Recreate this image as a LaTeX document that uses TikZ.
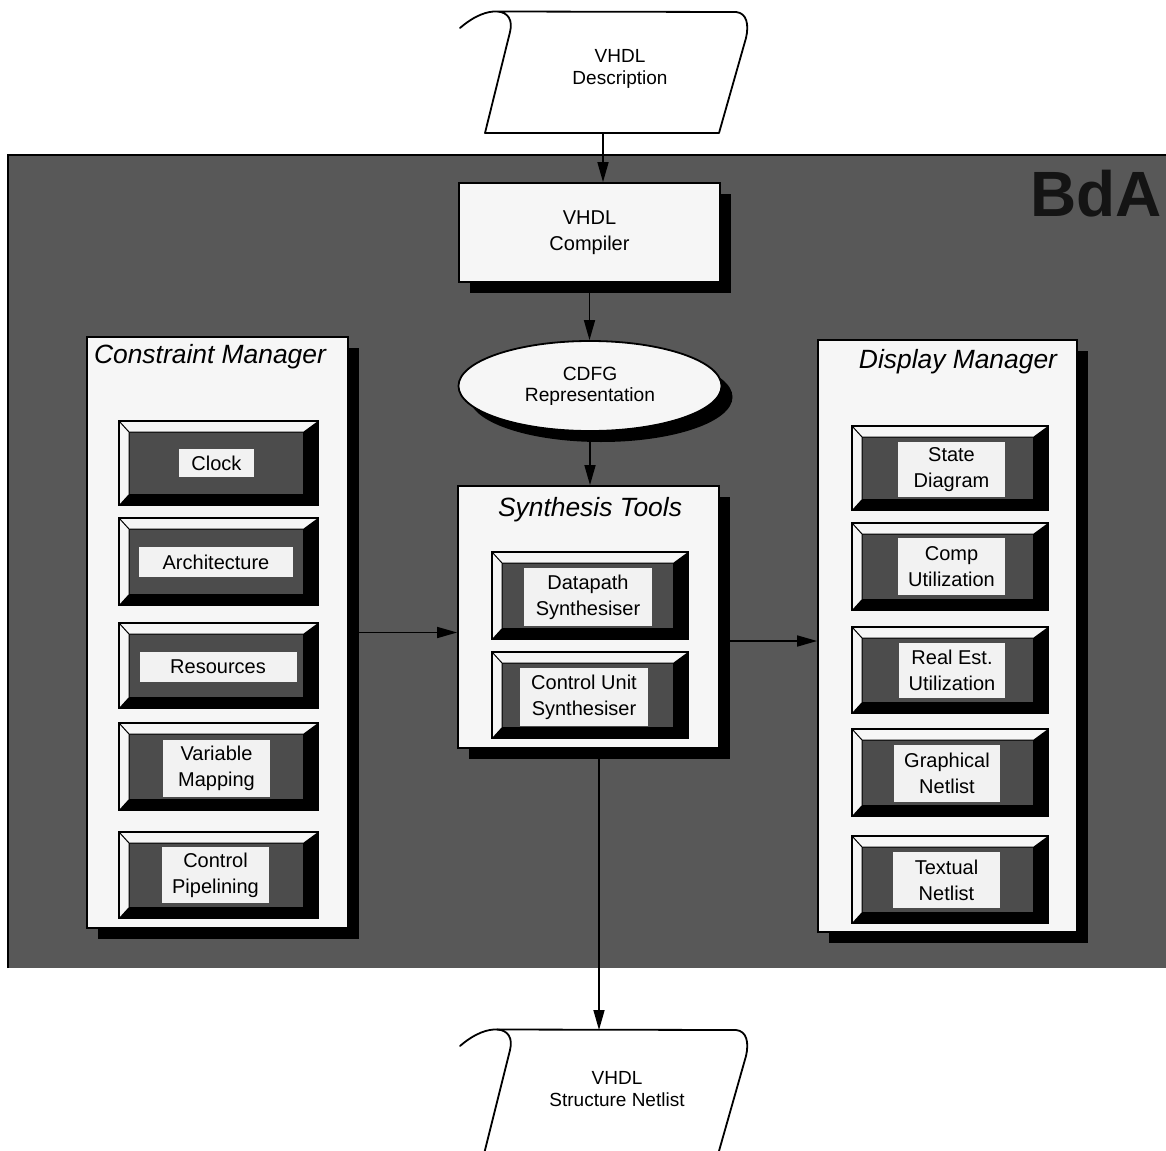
\documentclass[tikz,border=0pt]{standalone}
\usepackage{fontspec}
\setmainfont{Liberation Sans}
\usetikzlibrary{shapes.geometric,shadows,arrows.meta}
\definecolor{bggray}{HTML}{585858}
\definecolor{fieldgray}{HTML}{4C4C4C}
\definecolor{paper}{HTML}{F6F6F6}
\definecolor{lblwhite}{HTML}{F2F2F2}
\newcommand{\bevbox}[4]{%
  \fill[paper] (#1,#2) rectangle (#3,#4);
  \fill[black] (#3,#2) -- (#3,#4) -- (#1,#4) -- (#1+10,#4-11) -- (#3-15,#4-11) -- (#3-15,#2+11) -- cycle;
  \fill[fieldgray] (#1+10,#2+11) rectangle (#3-15,#4-11);
  \draw[line width=0.9pt] (#1,#2) rectangle (#3,#4);
  \draw[line width=0.5pt] (#1,#2) -- (#1+10,#2+11) -- (#3-15,#2+11) (#1+10,#2+11) -- (#1+10,#4-11);
}
\begin{document}
\begin{tikzpicture}[x=0.5pt,y=-0.5pt,
  shad/.style={drop shadow={shadow xshift=5.5pt,shadow yshift=-5.5pt,fill=black,opacity=1}},
  procbox/.style={draw,line width=0.9pt,fill=paper,shad,align=center,inner sep=0pt,
    font=\fontsize{10}{13}\selectfont},
  panel/.style={draw,line width=0.9pt,fill=paper,shad,inner sep=0pt},
  title/.style={font=\itshape\fontsize{13.2}{15}\selectfont,inner sep=0pt},
  lbl/.style={fill=lblwhite,inner sep=0pt,align=center,font=\fontsize{10}{13}\selectfont},
  tapetxt/.style={align=center,inner sep=0pt,font=\fontsize{9.5}{11}\selectfont},
  arr/.style={-{Triangle[length=10pt,width=5.5pt]},line width=0.8pt},
  tapeline/.style={line width=0.9pt,line join=round,line cap=round}]
\useasboundingbox (0,0) rectangle (1166,1150);
\fill[white] (0,0) rectangle (1166,1150);
% background block
\fill[bggray] (8,155) rectangle (1166,968);
\draw[line width=0.8pt] (8,968) -- (8,155) -- (1166,155);
\node[font=\bfseries\fontsize{32}{32}\selectfont,text=black!92,anchor=east,inner sep=0pt] (bda) at (1162,194) {BdA};
% top tape
\fill[white] (497,11.5) .. controls (508,12) and (513,20) .. (510,32) -- (485,133) -- (719,133) -- (746,38) .. controls (749,25) and (747,13) .. (736,12) -- cycle;
\draw[tapeline] (460,28) .. controls (475,15) and (488,11) .. (497,11.5) .. controls (508,12) and (513,20) .. (510,32) -- (485,133) -- (719,133) -- (746,38) .. controls (749,25) and (747,13) .. (736,12) -- (497,11.5);
\node[tapetxt] (desc) at (620,69) {VHDL\\Description};
\coordinate (descb) at (603,133);
% bottom tape
\begin{scope}[shift={(0,1018)}]
\fill[white] (497,11.5) .. controls (508,12) and (513,20) .. (510,32) -- (483,140) -- (717,140) -- (746,38) .. controls (749,25) and (747,13) .. (736,12) -- cycle;
\draw[tapeline] (460,28) .. controls (475,15) and (488,11) .. (497,11.5) -- (736,12) .. controls (747,13) and (749,25) .. (746,38) -- (717,140);
\draw[tapeline] (497,11.5) .. controls (508,12) and (513,20) .. (510,32) -- (483,140);
\end{scope}
\node[tapetxt] (net) at (617,1089) {VHDL\\Structure Netlist};
\coordinate (nt) at (599,1030);
% compiler and CDFG
\node[procbox,minimum width=130.5pt,minimum height=49.5pt] (comp) at (589.5,232.5) {VHDL\\Compiler};
\node[ellipse,draw,line width=0.9pt,fill=paper,shad,minimum width=131.5pt,minimum height=45pt,inner sep=0pt,align=center,font=\fontsize{9.6}{10.5}\selectfont] (cdfg) at (590,386) {CDFG\\Representation};
% panels
\node[panel,minimum width=130.5pt,minimum height=295.5pt] (cm) at (217.5,632.5) {};
\node[panel,minimum width=130.5pt,minimum height=131pt] (synth) at (588.5,617) {};
\node[panel,minimum width=129.5pt,minimum height=296pt] (dm) at (947.5,636) {};
\node[title] (cmt) at (210,357) {Constraint Manager};
\node[title] (stt) at (590,510) {Synthesis Tools};
\node[title] (dmt) at (958,362) {Display Manager};
% constraint manager buttons
\bevbox{119}{421}{318}{505}
\node[lbl,minimum width=37.5pt,minimum height=14pt] (clock) at (216.5,463) {Clock};
\bevbox{119}{518}{318}{605}
\node[lbl,minimum width=77pt,minimum height=15pt] (arch) at (216,562) {Architecture};
\bevbox{119}{623}{318}{708}
\node[lbl,minimum width=78.5pt,minimum height=15pt] (res) at (218,667) {Resources};
\bevbox{119}{723}{318}{810}
\node[lbl,minimum width=53.5pt,minimum height=28.5pt] (varmap) at (216.5,768.5) {Variable\\Mapping};
\bevbox{119}{832}{318}{918}
\node[lbl,minimum width=53.5pt,minimum height=28pt] (ctrlpipe) at (215.5,875) {Control\\Pipelining};
% synthesis buttons
\bevbox{492}{552}{688}{639}
\node[lbl,minimum width=64pt,minimum height=29pt] (dps) at (588,597) {Datapath\\Synthesiser};
\bevbox{492}{652}{688}{738}
\node[lbl,minimum width=64pt,minimum height=29pt] (cus) at (584,697) {Control Unit\\Synthesiser};
% display manager buttons
\bevbox{852}{426}{1048}{510}
\node[lbl,minimum width=53.5pt,minimum height=27.5pt] (sdia) at (951.5,469.5) {State\\Diagram};
\bevbox{852}{523}{1048}{610}
\node[lbl,minimum width=53.5pt,minimum height=28.5pt] (cutil) at (951.5,566.5) {Comp\\Utilization};
\bevbox{852}{627}{1048}{713}
\node[lbl,minimum width=53pt,minimum height=27.5pt] (rutil) at (952,670.5) {Real Est.\\Utilization};
\bevbox{852}{729}{1048}{816}
\node[lbl,minimum width=53pt,minimum height=28.5pt] (gnet) at (947,773.5) {Graphical\\Netlist};
\bevbox{852}{836}{1048}{923}
\node[lbl,minimum width=53.5pt,minimum height=28pt] (tnet) at (946.5,880) {Textual\\Netlist};
% connectors
\draw[arr] (descb) -- (descb |- comp.north);
\draw[arr] (comp.south) -- (comp.south |- cdfg.north);
\draw[arr] (cdfg.south) -- (cdfg.south |- synth.north);
\draw[arr] (cm.east) -- (cm.east -| synth.west);
\coordinate (sd) at ([yshift=-12pt]synth.east);
\draw[arr] (sd) -- (sd -| dm.west);
\draw[arr] (nt |- synth.south) -- (nt);
\end{tikzpicture}
\end{document}
